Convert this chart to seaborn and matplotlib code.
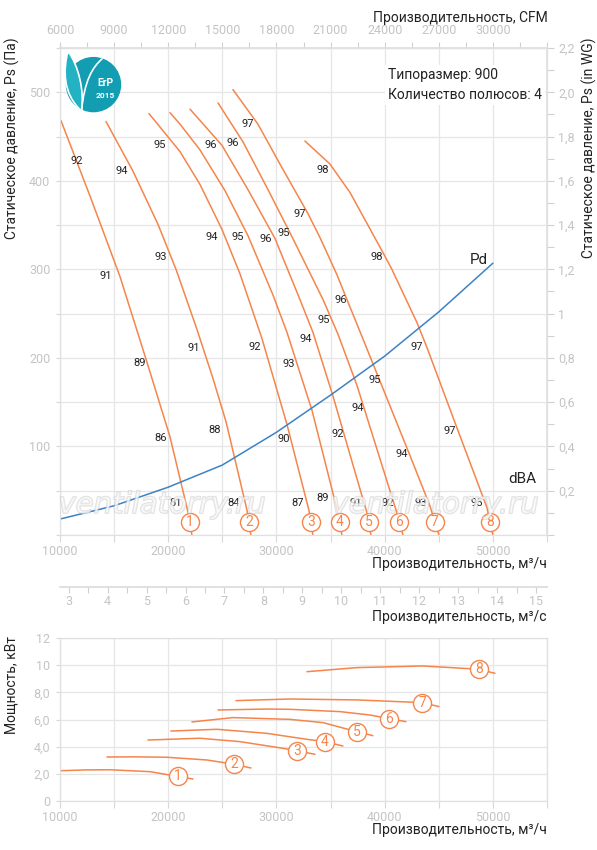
import numpy as np
import matplotlib
matplotlib.use("Agg")
import matplotlib.pyplot as plt
import matplotlib.ticker as mticker
import matplotlib.patheffects as pe
from matplotlib.patches import Circle, PathPatch
from matplotlib.path import Path
import seaborn as sns

sns.set_theme(style="whitegrid")
plt.rcParams['font.family'] = ['Roboto', 'DejaVu Sans']

ORANGE = '#f5854b'
BLUE = '#3c82c6'
GRID = '#e6e6e6'
TICK = '#c4c4c4'

# fan curves: flow (m3/h) vs static pressure (Pa)
q1 = [10090, 12860, 15540, 18040, 20160, 21730, 22190]
p1 = [468, 380, 292, 195, 111, 31, 0]
q2 = [14250, 16740, 19050, 20720, 21550, 22660, 24130, 25340, 27280, 27640]
p2 = [467, 411, 351, 300, 271, 232, 177, 128, 28, 0]
q3 = [18220, 21090, 22930, 24970, 26630, 28660, 30970, 33000, 33370]
p3 = [476, 433, 396, 345, 295, 222, 125, 28, 0]
q4 = [20160, 21090, 22930, 25240, 27370, 29680, 30970, 33280, 35680, 36050]
p4 = [477, 464, 435, 389, 338, 271, 229, 141, 25, 0]
q5 = [22010, 24970, 27370, 29860, 32170, 33370, 35220, 38360, 38730]
p5 = [481, 440, 390, 335, 266, 229, 157, 25, 0]
q6 = [24600, 26910, 29220, 31430, 34300, 35680, 37440, 41130, 41690]
p6 = [488, 444, 390, 337, 266, 227, 169, 25, 0]
q7 = [25980, 28290, 30320, 32910, 34020, 35590, 36610, 37810, 39560, 42330, 44180, 45010]
p7 = [503, 464, 419, 363, 336, 294, 263, 227, 174, 90, 33, 0]
q8 = [32630, 34940, 36790, 39840, 40670, 42980, 43900, 46770, 49450, 50000]
p8 = [445, 419, 387, 319, 300, 240, 212, 118, 31, 0]
fan_q = [q1, q2, q3, q4, q5, q6, q7, q8]
fan_p = [p1, p2, p3, p4, p5, p6, p7, p8]

# dynamic pressure
pd_q = [10000, 15000, 20000, 25000, 30000, 35000, 40000, 45000, 50000]
pd_p = [18, 33, 54, 79, 116, 158, 202, 252, 307]

# noise levels dBA along the curves
dba_q = [11570, 14250, 17390, 19330, 20720,
         15730, 19330, 22380, 24320, 26070,
         19240, 24040, 28010, 30690, 31990,
         26440, 31150, 34300,
         23950, 29030, 32730, 35680, 37340,
         25980, 30690, 34390, 37530, 40300,
         27370, 32170, 35960, 39100, 41590, 43350,
         34300, 39280, 42980, 46030, 48520]
dba_p = [422, 293, 194, 109, 36,
         411, 314, 211, 119, 36,
         441, 337, 212, 108, 36,
         337, 193, 42,
         440, 334, 221, 114, 36,
         443, 341, 243, 143, 36,
         464, 362, 265, 175, 91, 36,
         412, 314, 212, 117, 36]
dba_v = [92, 91, 89, 86, 81,
         94, 93, 91, 88, 84,
         95, 94, 92, 90, 87,
         95, 93, 89,
         96, 96, 94, 92, 91,
         96, 95, 95, 94, 92,
         97, 97, 96, 95, 94, 93,
         98, 98, 97, 97, 95]

# power curves (kW)
w1_q = [10000, 12500, 14620, 18310, 20160, 22290]
w1 = [2.23, 2.29, 2.30, 2.16, 1.91, 1.62]
w2_q = [14340, 17000, 19880, 23580, 25980, 27640]
w2 = [3.24, 3.25, 3.22, 3.02, 2.72, 2.43]
w3_q = [18130, 22930, 26630, 30600, 33560]
w3 = [4.49, 4.62, 4.37, 3.88, 3.44]
w4_q = [20250, 24500, 29120, 32820, 34480, 36140]
w4 = [5.15, 5.28, 4.98, 4.54, 4.37, 4.05]
w5_q = [22190, 25980, 31250, 34300, 37440, 38910]
w5 = [5.82, 6.14, 6.01, 5.77, 5.10, 4.81]
w6_q = [24600, 29120, 31250, 35870, 38640, 41960]
w6 = [6.70, 6.77, 6.75, 6.58, 6.33, 5.84]
w7_q = [26260, 31250, 37440, 41410, 43440, 45010]
w7 = [7.39, 7.51, 7.44, 7.31, 7.25, 6.95]
w8_q = [32820, 37440, 43530, 48710, 50190]
w8 = [9.52, 9.82, 9.94, 9.70, 9.40]
pow_q = [w1_q, w2_q, w3_q, w4_q, w5_q, w6_q, w7_q, w8_q]
pow_w = [w1, w2, w3, w4, w5, w6, w7, w8]
pow_mark_q = [20900, 26070, 31890, 34480, 37440, 40390, 43440, 48710]

W, H = 597, 850
fig = plt.figure(figsize=(W / 100, H / 100), dpi=100)


def box(l, t, r, b):
    return [l / W, 1 - b / H, (r - l) / W, (b - t) / H]


def comma(v, _=None):
    if abs(v - round(v)) < 1e-9 and round(v) in (0, 1, 10, 12):
        return f"{int(round(v))}"
    return f"{v:.1f}".replace('.', ',')


def marker(ax, x, y, n, size=13, fs=10):
    ax.plot([x], [y], 'o', ms=size, mfc='white', mec=ORANGE, mew=1, zorder=5)
    ax.text(x, y, str(n), color=ORANGE, fontsize=fs, ha='center', va='center', zorder=6)


# ---------------- main chart ----------------
ax = fig.add_axes(box(60, 48, 547, 535))
for q, p in zip(fan_q, fan_p):
    sns.lineplot(x=q, y=p, ax=ax, color=ORANGE, lw=1.1, sort=False, estimator=None)
sns.lineplot(x=pd_q, y=pd_p, ax=ax, color=BLUE, lw=1.1, sort=False, estimator=None)

for i, (q, p) in enumerate(zip(fan_q, fan_p)):
    xm = np.interp(15, p[::-1], q[::-1])
    marker(ax, xm, 15, i + 1)

for q, p, v in zip(dba_q, dba_p, dba_v):
    ax.text(q, p, str(v), fontsize=8, ha='center', va='center', color='#222222')

ax.text(48700, 311, 'Pd', fontsize=11, ha='center', va='center', color='#222222')
ax.text(52700, 63, 'dBA', fontsize=11, ha='center', va='center', color='#222222')
ax.text(0.6735, 0.944, 'Типоразмер: 900', transform=ax.transAxes, fontsize=10,
        va='center', ha='left', color='#222222',
        bbox=dict(fc='white', ec='none', pad=2))
ax.text(0.6735, 0.903, 'Количество полюсов: 4', transform=ax.transAxes, fontsize=10,
        va='center', ha='left', color='#222222',
        bbox=dict(fc='white', ec='none', pad=2))

for xw in (162, 435):
    ax.text((xw - 60) / 487, (535 - 505) / 487, 'ventilatorry.ru', transform=ax.transAxes,
            fontsize=21, style='italic', ha='center', va='center', color='white', alpha=0.5,
            family=['DejaVu Sans'], zorder=7,
            path_effects=[pe.Stroke(linewidth=1.3, foreground='#c4c4c4'), pe.Normal()])

ax.set_xlim(10000, 55000)
ax.set_ylim(0, 550)
ax.xaxis.set_major_locator(mticker.MultipleLocator(5000))
ax.xaxis.set_major_formatter(mticker.FuncFormatter(
    lambda v, _: f"{int(v)}" if v % 10000 == 0 and v <= 50000 else ""))
ax.yaxis.set_major_locator(mticker.MultipleLocator(50))
ax.yaxis.set_major_formatter(mticker.FuncFormatter(
    lambda v, _: f"{int(v)}" if v % 100 == 0 and 0 < v <= 500 else ""))
ax.grid(True, color=GRID, lw=0.9)
ax.tick_params(axis='x', bottom=True, length=5, width=0.8, color='#d8d8d8',
               labelcolor=TICK, labelsize=9, pad=2)
ax.tick_params(axis='y', left=True, length=3, width=0.8, color='#d8d8d8',
               labelcolor=TICK, labelsize=9, pad=4)
for s in ax.spines.values():
    s.set_color('#e0e0e0')
    s.set_linewidth(0.9)

top = ax.secondary_xaxis('top', functions=(lambda q: q * 0.6, lambda c: c / 0.6))
top.set_xticks(range(6000, 30001, 3000))
top.xaxis.set_minor_locator(mticker.MultipleLocator(1500))
top.tick_params(axis='x', which='both', top=True, length=4, width=0.8, color='#d0d0d0',
                labelcolor=TICK, labelsize=9, pad=4)
top.spines['top'].set_color('#e0e0e0')

right = ax.secondary_yaxis('right', functions=(lambda p: p / 250, lambda w: w * 250))
right.set_yticks(np.round(np.arange(0.2, 2.21, 0.2), 1))
right.yaxis.set_minor_locator(mticker.MultipleLocator(0.1))
right.yaxis.set_major_formatter(mticker.FuncFormatter(comma))
right.tick_params(axis='y', which='both', right=True, length=5, width=0.8, color='#d0d0d0',
                  labelcolor=TICK, labelsize=9, pad=3)
right.spines['right'].set_color('#e0e0e0')

# ErP logo
lg = fig.add_axes(box(62, 54, 122, 114))
lg.set_xlim(-1, 1)
lg.set_ylim(-1, 1)
lg.set_aspect('equal')
lg.axis('off')
lg.add_patch(Circle((0.05, -0.02), 0.9, color='#139db3'))
leaf1 = Path([(-0.35, -0.9), (-1.0, -0.3), (-0.95, 0.5), (-0.8, 1.1),
              (-0.45, 0.6), (-0.25, -0.2), (-0.35, -0.9)],
             [Path.MOVETO, Path.CURVE4, Path.CURVE4, Path.CURVE4,
              Path.CURVE4, Path.CURVE4, Path.CURVE4])
lg.add_patch(PathPatch(leaf1, fc='#22b2c4', ec='white', lw=1.2))
leaf2 = Path([(-0.35, -0.9), (-0.25, 0.1), (0.0, 0.55), (0.35, 0.85)],
             [Path.MOVETO, Path.CURVE4, Path.CURVE4, Path.CURVE4])
lg.add_patch(PathPatch(leaf2, fc='none', ec='white', lw=1.2))
lg.text(0.45, 0.02, 'ErP', color='white', fontsize=7.5, fontweight='bold',
        ha='center', va='center', zorder=5)
lg.text(0.45, -0.38, '2015', color='white', fontsize=6, fontweight='bold',
        ha='center', va='center', zorder=5)

# ---------------- m3/s scale ----------------
ax3 = fig.add_axes(box(60, 586, 547, 587))
ax3.set_facecolor('none')
ax3.grid(False)
for k in ('top', 'left', 'right'):
    ax3.spines[k].set_visible(False)
ax3.spines['bottom'].set_color('#dcdcdc')
ax3.set_xlim(10000 / 3600, 55000 / 3600)
ax3.set_yticks([])
ax3.xaxis.set_major_locator(mticker.MultipleLocator(1))
ax3.xaxis.set_minor_locator(mticker.MultipleLocator(0.5))
ax3.tick_params(axis='x', which='both', bottom=True, length=4, width=0.8, color='#d0d0d0',
                labelcolor=TICK, labelsize=9, pad=2)

# ---------------- power chart ----------------
ax2 = fig.add_axes(box(60, 638, 547, 801))
for q, w in zip(pow_q, pow_w):
    sns.lineplot(x=q, y=w, ax=ax2, color=ORANGE, lw=1.1, sort=False, estimator=None)
for i, (q, w) in enumerate(zip(pow_q, pow_w)):
    xm = pow_mark_q[i]
    marker(ax2, xm, np.interp(xm, q, w), i + 1)
ax2.set_xlim(10000, 55000)
ax2.set_ylim(0, 12)
ax2.xaxis.set_major_locator(mticker.MultipleLocator(5000))
ax2.xaxis.set_major_formatter(mticker.FuncFormatter(
    lambda v, _: f"{int(v)}" if v % 10000 == 0 and v <= 50000 else ""))
ax2.yaxis.set_major_locator(mticker.MultipleLocator(2))
ax2.yaxis.set_major_formatter(mticker.FuncFormatter(comma))
ax2.grid(True, color=GRID, lw=0.9)
ax2.tick_params(axis='x', bottom=True, length=5, width=0.8, color='#d8d8d8',
                labelcolor=TICK, labelsize=9, pad=2)
ax2.tick_params(axis='y', left=True, length=3, width=0.8, color='#d8d8d8',
                labelcolor=TICK, labelsize=9, pad=4)
for s in ax2.spines.values():
    s.set_color('#e0e0e0')
    s.set_linewidth(0.9)

# ---------------- axis titles ----------------
txt = dict(fontsize=10, color='#222222')
fig.text(548 / W, 1 - 18 / H, 'Производительность, CFM', ha='right', va='center', **txt)
fig.text(547 / W, 1 - 564 / H, 'Производительность, м³/ч', ha='right', va='center', **txt)
fig.text(547 / W, 1 - 617 / H, 'Производительность, м³/с', ha='right', va='center', **txt)
fig.text(547 / W, 1 - 830 / H, 'Производительность, м³/ч', ha='right', va='center', **txt)
fig.text(12 / W, 1 - 138 / H, 'Статическое давление, Ps (Па)', rotation=90,
         ha='center', va='center', **txt)
fig.text(589 / W, 1 - 148 / H, 'Статическое давление, Ps (in WG)', rotation=90,
         ha='center', va='center', **txt)
fig.text(12 / W, 1 - 685 / H, 'Мощность, кВт', rotation=90, ha='center', va='center', **txt)

fig.savefig('out.png', dpi=100)
